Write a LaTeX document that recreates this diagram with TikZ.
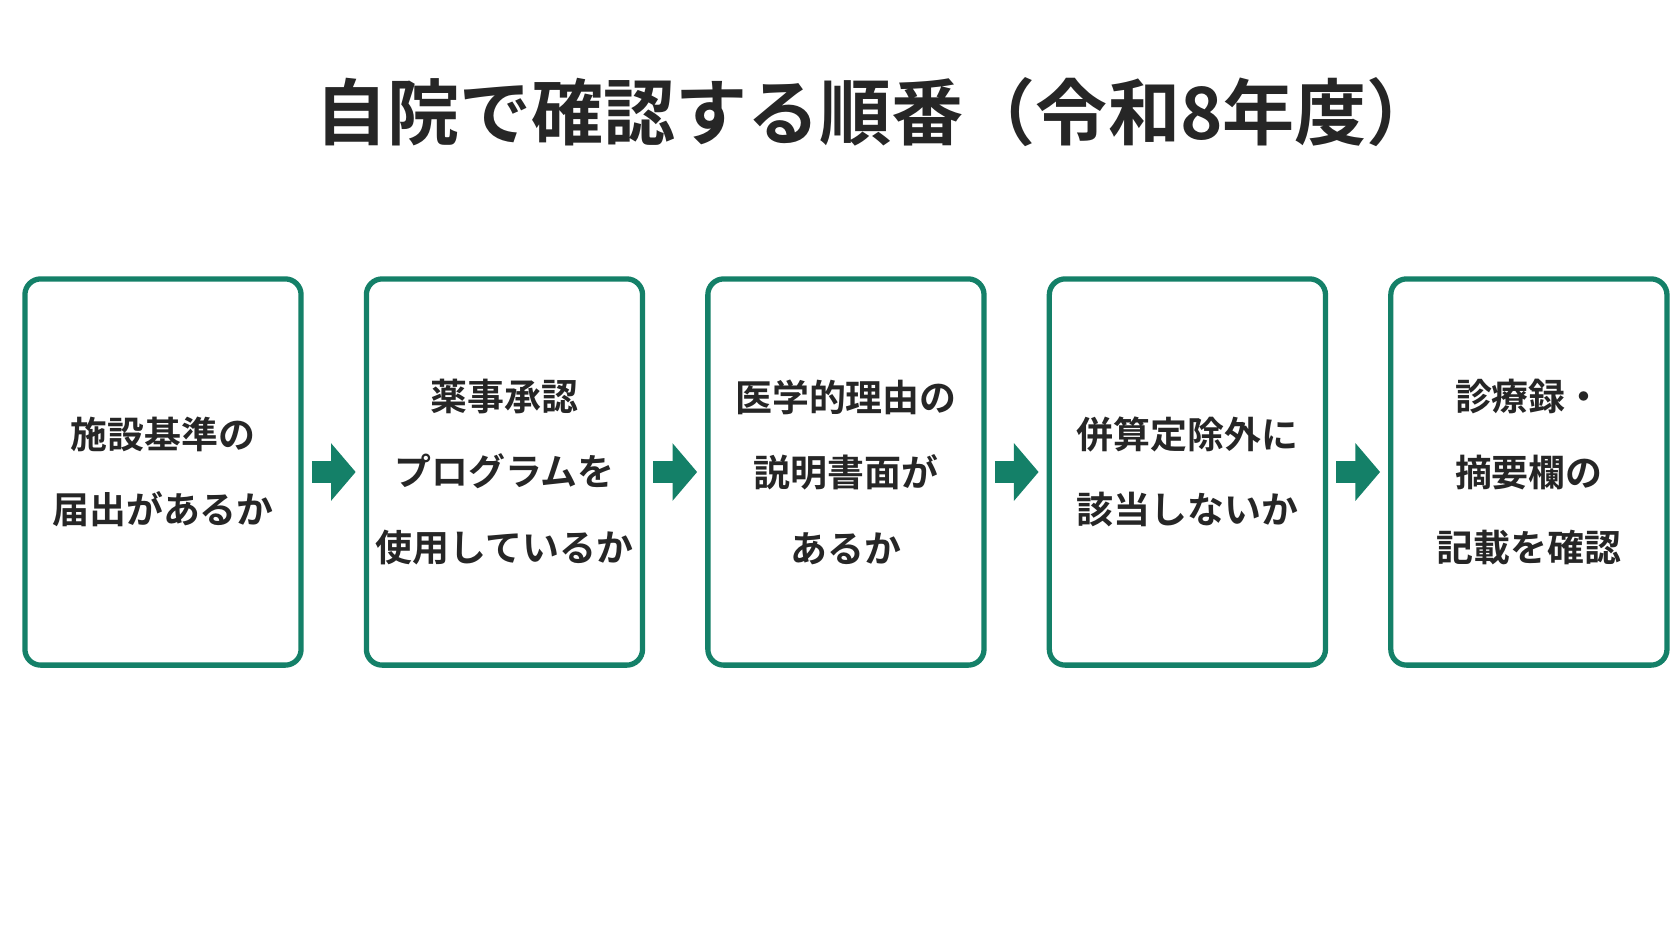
\documentclass[tikz,border=0pt]{standalone}
\usepackage{fontspec}
\newfontfamily\cjk{Noto Sans CJK JP}[BoldFont={Noto Sans CJK JP Bold}]
\usetikzlibrary{positioning,arrows.meta}
\definecolor{stepgreen}{RGB}{20,128,104}
\tikzset{
  stepbox/.style={draw=stepgreen,line width=1.5pt,rounded corners=4.5pt,minimum width=2.76cm,minimum height=3.86cm,
    align=center,inner sep=1pt,font=\cjk\bfseries\fontsize{10.5}{21.5}\selectfont,text=black!85},
  flow/.style={draw=stepgreen,line width=6pt,-{Triangle[length=7pt,width=16pt]}}
}
\begin{document}
\begin{tikzpicture}[x=0.01cm,y=0.01cm]
\useasboundingbox[fill=white] (0,0) rectangle (1672,-941);
\node[font=\cjk\bfseries\fontsize{20.5}{24}\selectfont,text=black!85] (title) at (877,-112) {自院で確認する順番（令和8年度）};
\node[stepbox] (s1) at (163,-472) {施設基準の\\届出があるか};
\node[stepbox,right=0.6cm of s1] (s2) {薬事承認\\プログラムを\\使用しているか};
\node[stepbox,right=0.6cm of s2] (s3) {医学的理由の\\説明書面が\\あるか};
\node[stepbox,right=0.6cm of s3] (s4) {併算定除外に\\該当しないか};
\node[stepbox,right=0.6cm of s4] (s5) {診療録・\\摘要欄の\\記載を確認};
\foreach \a/\b in {s1/s2,s2/s3,s3/s4,s4/s5}
  \draw[flow] ([xshift=2.3pt]\a.east) -- ([xshift=-2.3pt]\b.west);
\end{tikzpicture}
\end{document}
